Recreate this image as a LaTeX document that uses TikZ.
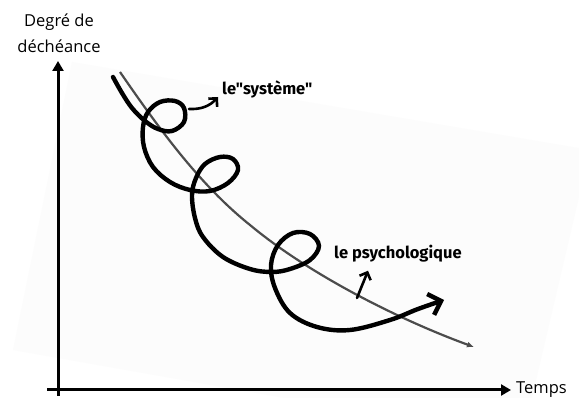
\documentclass[tikz,border=0pt]{standalone}
\usepackage{fontspec}
\setmainfont{Open Sans}
\newfontfamily\tagfont{Fira Sans}
\usetikzlibrary{arrows.meta}

\begin{document}
\begin{tikzpicture}[x=1pt, y=-1pt,
    every node/.style={font=\fontsize{16.5}{26}\selectfont},
    axis/.style={line width=3pt, -{Triangle[length=10pt, width=11pt]}},
    trend/.style={line width=2.2pt, black!70, -{Latex[length=7pt, width=6pt]}},
    spiral/.style={line width=4.4pt, line cap=round, -{Straight Barb[length=11pt, width=22pt, line width=4.4pt]}},
    pointer/.style={line width=2.6pt, line cap=round, -{Straight Barb[length=6pt, width=12pt, line width=2.6pt]}},
    tag/.style={font=\tagfont\bfseries\fontsize{16.5}{18}\selectfont, inner sep=0pt, anchor=west}]
    \useasboundingbox (0,0) rectangle (579,398);
    \clip (0,0) rectangle (579,398);
    \fill[white] (0,0) rectangle (579,398);
    % faint sheet behind the plot
    \fill[black!1] (72,62) -- (590,150) -- (522,440) -- (13,350) -- cycle;

    % axes
    \coordinate (ybot) at (58,396);
    \coordinate (ytop) at (58,61);
    \coordinate (xleft) at (47,390);
    \coordinate (xright) at (511,390);
    \draw[axis] (ybot) -- (ytop);
    \draw[axis] (xleft) -- (xright);
    \node[align=center] (ylabel) at (59,33) {Degré de\\déchéance};
    \node[anchor=west, inner sep=0pt] (xlabel) at (516,390) {Temps};

    % decline curve
    \draw[trend] (120,72) .. controls (160,130) and (200,185) .. (250,225)
        .. controls (310,275) and (400,320) .. (474,347);
    \coordinate (onpsy) at (357,298);

    % the spiral
    \draw[spiral] plot[smooth, tension=0.6] coordinates {
        (113,77) (122,93) (132,108) (145,121) (158,129) (172,131) (184,122)
        (184,108) (175,101) (160,102) (148,112) (143,127) (144,147) (153,167)
        (170,182) (190,190) (210,191) (228,183) (238,170) (233,159) (220,157)
        (205,164) (196,178) (192,195) (195,218) (203,237) (223,257) (250,269)
        (272,272) (290,269) (310,260) (319,246) (310,234) (293,233) (278,245)
        (271,265) (275,288) (290,313) (317,327) (350,330) (390,320) (418,309)
        (444,300)};
    \coordinate (onsys) at (189,109);

    % labels
    \node[tag] (lsys) at (222,89) {le"système"};
    \node[tag] (lpsy) at (334,254) {le psychologique};
    \draw[pointer] (onsys) to[bend right=25] ([xshift=-4pt, yshift=-8pt]lsys.west);
    \draw[pointer] (onpsy) -- ([xshift=34pt, yshift=-8pt]lpsy.south west);
\end{tikzpicture}
\end{document}
